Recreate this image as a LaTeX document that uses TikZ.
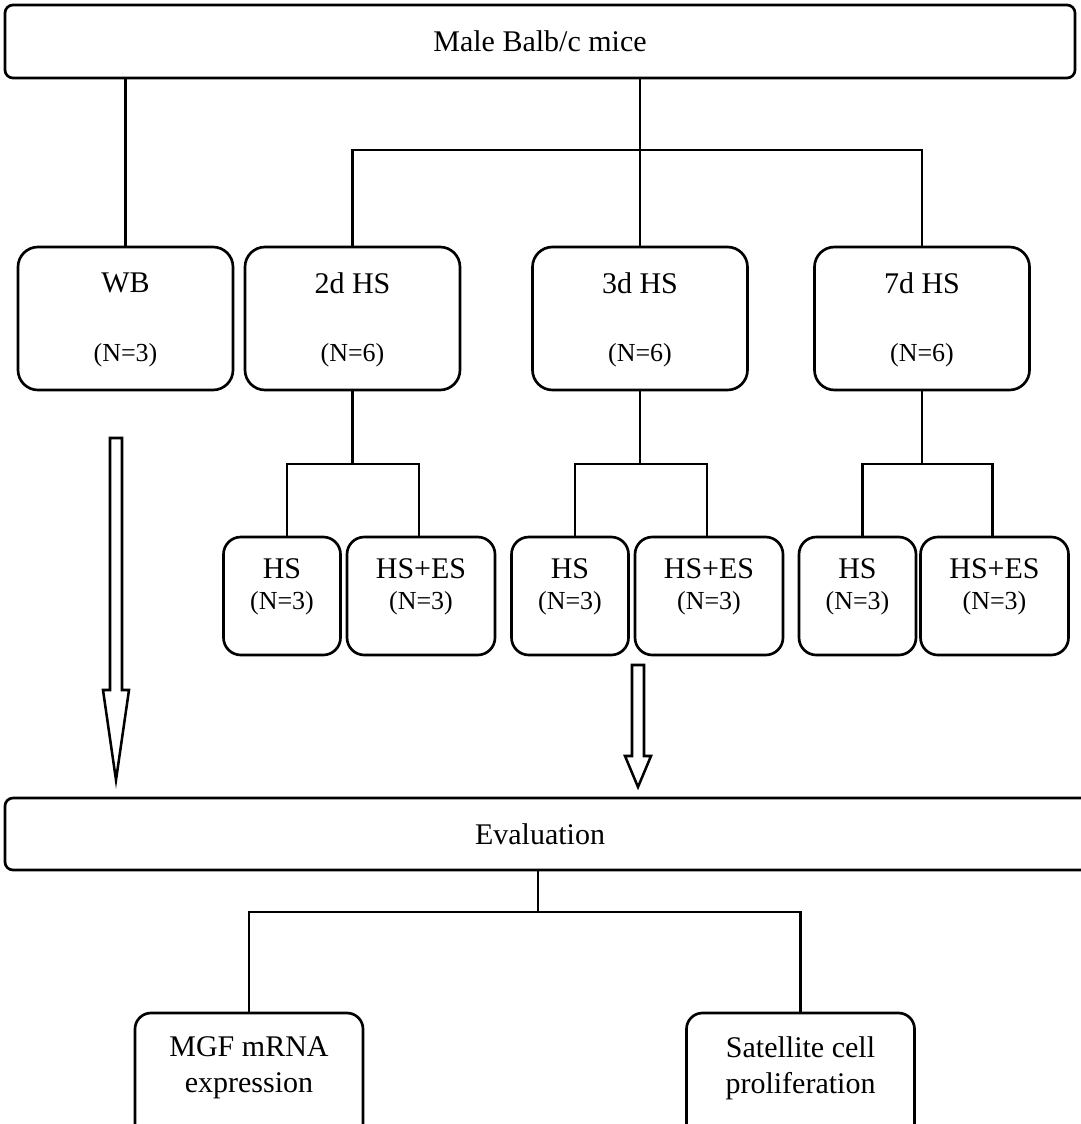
\documentclass[tikz,border=0pt]{standalone}
\usepackage{fontspec}
\setmainfont{Liberation Serif}
\begin{document}
\begin{tikzpicture}[x=0.75pt,y=-0.75pt,line width=1.7pt,
  box/.style={draw,line width=2pt,inner sep=0pt},
  grpbox/.style={box,rounded corners=15pt,minimum width=161.25pt,minimum height=107.25pt},
  subbox/.style={box,rounded corners=13pt,minimum height=88.5pt},
  big/.style={font=\fontsize{22.5}{27}\selectfont,inner sep=0pt},
  small/.style={font=\fontsize{19.5}{23}\selectfont,inner sep=0pt},
  blockarrow/.style={draw,line width=1.9pt,line join=miter}]
\clip (0,0) rectangle (1081,1124);
% top
\node[box,rounded corners=6pt,minimum width=802.5pt,minimum height=54.75pt,big] (mice) at (540,41.5) {Male Balb/c mice};
% groups
\node[grpbox] (wb) at (125.5,318.5) {};
\node[grpbox] (d2) at (352.5,318.5) {};
\node[grpbox] (d3) at (640,318.5) {};
\node[grpbox] (d7) at (922,318.5) {};
\node[big] at (125.5,283) {WB};
\node[big] at (352.5,283) {2d HS};
\node[big] at (640,283) {3d HS};
\node[big] at (922,283) {7d HS};
\foreach \n/\x in {3/125.5,6/352.5,6/640,6/922}
  \node[small] at (\x,355) {(N=\n)};
\draw (mice.south -| wb.north) -- (wb.north);
\draw (mice.south -| d3.north) -- (d3.north);
\coordinate (bar) at (640,150);
\draw (d2.north) |- (bar) -| (d7.north);
% subgroups
\foreach \g/\a/\b in {2/282/421,3/570/709,7/857.5/994.5}{
  \node[subbox,minimum width=87.75pt] (hs\g) at (\a,596) {};
  \node[subbox,minimum width=111pt] (es\g) at (\b,596) {};
  \node[big] at (\a,569) {HS};
  \node[big] at (\b,569) {HS+ES};
  \node[small] at (\a,603) {(N=3)};
  \node[small] at (\b,603) {(N=3)};
  \draw ([xshift=3.75pt]hs\g.north) -- ++(0,-72) -| ([xshift=-1.5pt]es\g.north);
}
\draw (d2.south) -- (d2.south |- 0,465);
\draw (d3.south) -- (d3.south |- 0,465);
\draw (d7.south) -- (d7.south |- 0,465);
% block arrows
\draw[blockarrow] (110,438) -- (122,438) -- (122,690) -- (129,690) -- (116,780) -- (103,690) -- (110,690) -- cycle;
\draw[blockarrow] (632,665) -- (644,665) -- (644,756) -- (651,756) -- (638,787) -- (625,756) -- (632,756) -- cycle;
% evaluation
\node[box,rounded corners=6pt,minimum width=817.5pt,minimum height=54pt] (eval) at (550,834) {};
\node[big] at (540,834) {Evaluation};
\node[box,rounded corners=12pt,minimum width=171pt,minimum height=102.75pt] (mgf) at (249,1081.5) {};
\node[box,rounded corners=12pt,minimum width=171pt,minimum height=102.75pt] (sat) at (800.5,1081.5) {};
\node[big] at (249,1047) {MGF mRNA};
\node[big] at (249,1086) {expression};
\node[big] at (800.5,1047) {Satellite cell};
\node[big] at (800.5,1086) {proliferation};
\draw (eval.south -| 538,0) -- (538,912);
\draw (mgf.north) |- (538,912) -| (sat.north);
\end{tikzpicture}
\end{document}
